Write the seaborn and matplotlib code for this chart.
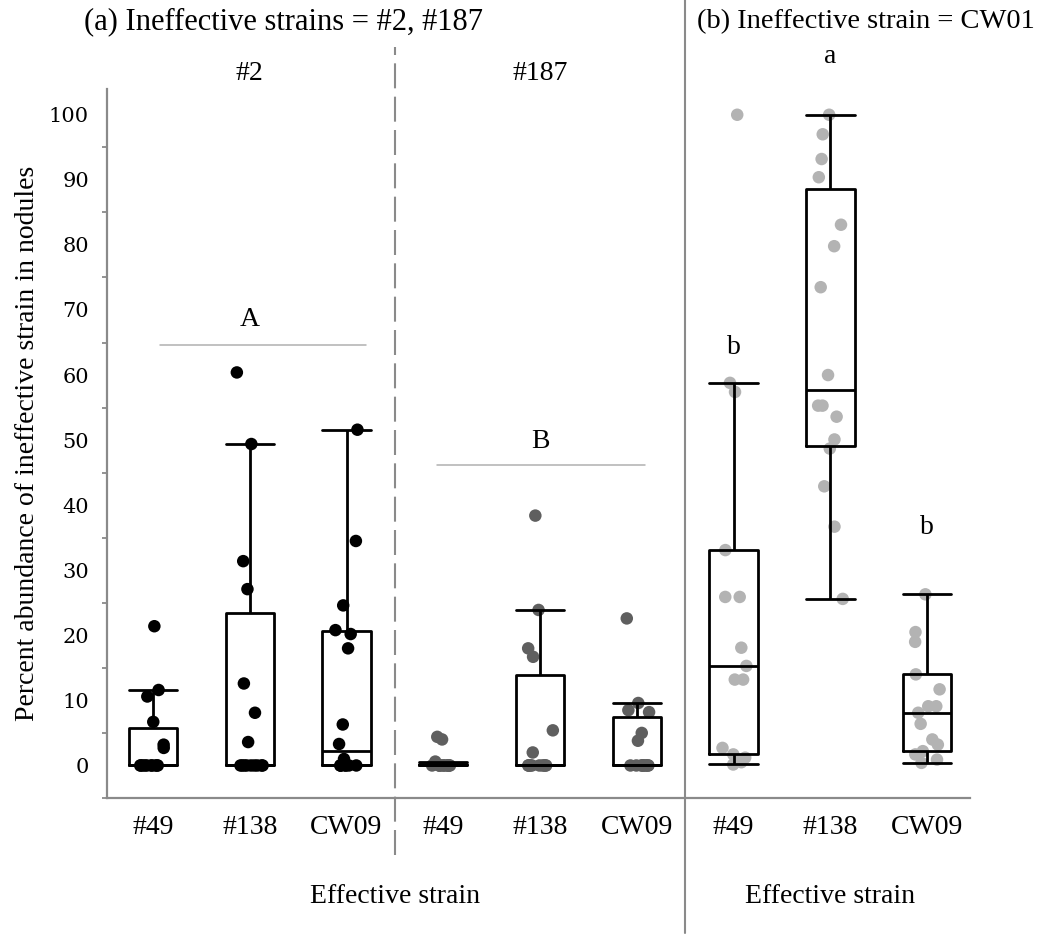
import numpy as np
import pandas as pd
import matplotlib
matplotlib.use("Agg")
import matplotlib.pyplot as plt
import seaborn as sns
from matplotlib.ticker import MultipleLocator

# ----------------------------------------------------------
# DATA (stacked zeros are estimated)
# ----------------------------------------------------------

EFFECTIVE = ["#49", "#138", "CW09"]
INEFFECTIVE = ["#2", "#187", "CW01"]

# percent abundance of the ineffective strain in nodules
s2_49 = [21.4, 11.6, 10.6, 6.7, 3.2, 2.7] + [0] * 10
s2_138 = [60.4, 49.4, 31.4, 27.1, 12.6, 8.1, 3.6] + [0] * 9
s2_cw09 = [51.6, 34.5, 24.6, 20.8, 20.2, 18.0, 6.3, 3.3, 1.0] + [0] * 7
s187_49 = [4.4, 4.0, 0.6, 0.4] + [0] * 12
s187_138 = [38.4, 23.9, 18.0, 16.7, 5.4, 2.0] + [0] * 10
s187_cw09 = [22.6, 9.6, 8.5, 8.2, 5.0, 3.8] + [0] * 10
cw01_49 = [100, 58.8, 57.4, 33.1, 25.9, 25.9, 18.1, 15.3, 13.2, 13.2,
           2.7, 1.7, 1.2, 0.5, 0.15]
cw01_138 = [100, 97.0, 93.2, 90.4, 83.1, 79.8, 73.5, 60.0, 55.3, 55.3,
            53.6, 50.1, 48.7, 42.9, 36.7, 25.6]
cw01_cw09 = [26.3, 20.5, 19.0, 14.0, 11.7, 9.1, 9.1, 8.1, 6.4, 4.0,
             3.2, 2.2, 1.7, 0.9, 0.4]

SERIES = {
    "#2": [s2_49, s2_138, s2_cw09],
    "#187": [s187_49, s187_138, s187_cw09],
    "CW01": [cw01_49, cw01_138, cw01_cw09],
}

POINT_COLORS = {"#2": "#000000", "#187": "#5f5f5f", "CW01": "#b3b3b3"}
GRAY = "#8a8a8a"
SERIF = ["Liberation Serif", "DejaVu Serif"]


def excel_pad(vals):
    # the original used Excel's exclusive quartiles; one extra copy of the
    # min and max makes numpy's default percentiles land on the same values
    return list(vals) + [min(vals), max(vals)]


# ----------------------------------------------------------
# BUILD TABLES
# ----------------------------------------------------------

order = []
pts_rows, box_rows = [], []
for ineff in INEFFECTIVE:
    for eff, vals in zip(EFFECTIVE, SERIES[ineff]):
        slot = f"{ineff} / {eff}"
        order.append(slot)
        pts_rows += [(slot, ineff, v) for v in vals]
        box_rows += [(slot, ineff, v) for v in excel_pad(vals)]

pts = pd.DataFrame(pts_rows, columns=["slot", "ineff", "pct"])
box = pd.DataFrame(box_rows, columns=["slot", "ineff", "pct"])

# ----------------------------------------------------------
# PLOT
# ----------------------------------------------------------

sns.set_style("white")
plt.rcParams["font.family"] = SERIF
plt.rcParams["text.color"] = "black"
plt.rcParams["xtick.color"] = "black"
plt.rcParams["ytick.color"] = "black"
plt.rcParams["axes.labelcolor"] = "black"

np.random.seed(3)
fig, ax = plt.subplots(figsize=(10.42, 9.34), dpi=100)
fig.subplots_adjust(left=0.1027, right=0.931, bottom=0.1456, top=0.905)

sns.stripplot(data=pts, x="slot", y="pct", hue="ineff", order=order,
              palette=POINT_COLORS, jitter=0.14, size=9, linewidth=0,
              legend=False, ax=ax, zorder=1)

box_kws = dict(data=box, x="slot", y="pct", order=order, fill=False,
               color="black", linecolor="black", linewidth=2.0, width=0.5,
               whis=1.5, showfliers=False, ax=ax)
try:
    sns.boxplot(capwidths=0.5, **box_kws)
except TypeError:
    sns.boxplot(**box_kws)

ax.set_xlim(-0.475, 8.444)
ax.set_ylim(-5, 104)

ax.set_xticks(range(len(order)))
ax.set_xticklabels(EFFECTIVE * 3, fontsize=20)
ax.tick_params(axis="x", length=0, pad=12)

ax.yaxis.set_major_locator(MultipleLocator(10))
ax.yaxis.set_minor_locator(MultipleLocator(5))
ax.tick_params(axis="y", which="major", length=7, width=1.3, color=GRAY,
               pad=6, labelsize=15)
ax.tick_params(axis="y", which="minor", length=3.5, width=1.3, color=GRAY,
               left=True)
for lab in ax.get_yticklabels():
    lab.set_fontfamily("DejaVu Serif")

ax.set_xlabel("")
ax.set_ylabel("Percent abundance of ineffective strain in nodules",
              fontsize=20, labelpad=6)

for side in ["top", "right"]:
    ax.spines[side].set_visible(False)
for side in ["left", "bottom"]:
    ax.spines[side].set_color(GRAY)
    ax.spines[side].set_linewidth(1.6)

# panel dividers
ax.axvline(2.5, ymin=-0.080, ymax=1.059, color=GRAY, lw=1.5,
           dashes=(12, 4), clip_on=False)
ax.axvline(5.5, ymin=-0.191, ymax=1.125, color=GRAY, lw=1.5, clip_on=False)

# group headers and significance letters
ax.text(1, 106.3, "#2", ha="center", va="center", fontsize=20, clip_on=False)
ax.text(4, 106.3, "#187", ha="center", va="center", fontsize=20, clip_on=False)

ax.text(1, 68.6, "A", ha="center", va="center", fontsize=20)
ax.plot([0.07, 2.2], [64.6, 64.6], color="#b0b0b0", lw=1.1)
ax.text(4, 49.8, "B", ha="center", va="center", fontsize=20)
ax.plot([2.93, 5.08], [46.2, 46.2], color="#b0b0b0", lw=1.1)

ax.text(6, 64.3, "b", ha="center", va="center", fontsize=20)
ax.text(7, 108.9, "a", ha="center", va="center", fontsize=20, clip_on=False)
ax.text(8, 36.6, "b", ha="center", va="center", fontsize=20)

xtrans = ax.get_xaxis_transform()
ax.text(2.5, -0.139, "Effective strain", transform=xtrans, ha="center",
        va="center", fontsize=20)
ax.text(7, -0.139, "Effective strain", transform=xtrans, ha="center",
        va="center", fontsize=20)

fig.text(283 / 1042, 1 - 22 / 934, "(a) Ineffective strains = #2, #187",
         ha="center", va="center", fontsize=22)
fig.text(697 / 1042, 1 - 22 / 934, "(b) Ineffective strain = CW01",
         ha="left", va="center", fontsize=20.5)

fig.savefig("out.png", dpi=100, facecolor="white")
